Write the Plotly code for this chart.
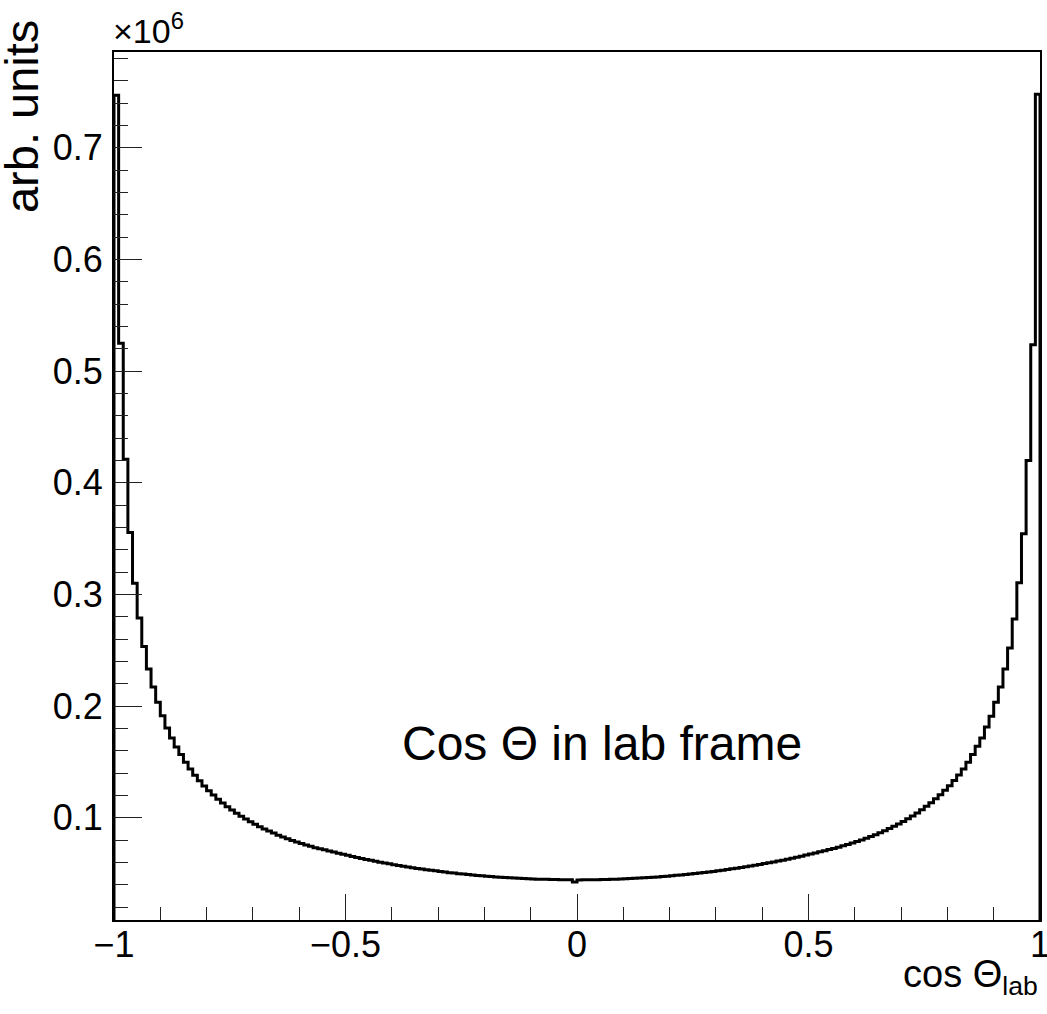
import numpy as np
import plotly.graph_objects as go

# Histogram of cos(theta_lab): 200 bins from -1 to 1, values in units of 10^6
x_min, x_max, n_bins = -1.0, 1.0, 200

# bins from x=-1 up to x=0 (left half)
counts_left = [
    0.747, 0.525, 0.421, 0.3556, 0.310, 0.279, 0.2535, 0.2333, 0.2172, 0.2036,
    0.1915, 0.1805, 0.1715, 0.1635, 0.1566, 0.1497, 0.1437, 0.1382, 0.1332, 0.1286,
    0.1243, 0.1204, 0.1167, 0.1133, 0.1100, 0.1070, 0.1041, 0.1014, 0.0989, 0.0965,
    0.0942, 0.0921, 0.0901, 0.0881, 0.0863, 0.0845, 0.0829, 0.0813, 0.0798, 0.0784,
    0.0770, 0.0757, 0.0745, 0.0733, 0.0722, 0.0713, 0.0703, 0.0693, 0.0683, 0.0673,
    0.0664, 0.0654, 0.0645, 0.0636, 0.0627, 0.0619, 0.0611, 0.0603, 0.0595, 0.0588,
    0.0580, 0.0573, 0.0567, 0.0560, 0.0554, 0.0547, 0.0541, 0.0536, 0.0530, 0.0525,
    0.0519, 0.0514, 0.0509, 0.0505, 0.0500, 0.0496, 0.0492, 0.0488, 0.0484, 0.0481,
    0.0477, 0.0474, 0.0471, 0.0468, 0.0465, 0.0463, 0.0461, 0.0458, 0.0456, 0.0454,
    0.0453, 0.0451, 0.0450, 0.0449, 0.0448, 0.0447, 0.0446, 0.0446, 0.0445, 0.0425,
]

# bins from x=0 up to x=1 (right half)
counts_right = [
    0.0444, 0.0445, 0.0445, 0.0446, 0.0446, 0.0447, 0.0448, 0.0449, 0.0451, 0.0452,
    0.0454, 0.0456, 0.0458, 0.0460, 0.0463, 0.0465, 0.0468, 0.0471, 0.0474, 0.0477,
    0.0481, 0.0485, 0.0489, 0.0493, 0.0497, 0.0501, 0.0506, 0.0510, 0.0515, 0.0520,
    0.0526, 0.0531, 0.0537, 0.0543, 0.0549, 0.0555, 0.0562, 0.0568, 0.0575, 0.0582,
    0.0590, 0.0597, 0.0605, 0.0613, 0.0621, 0.0629, 0.0638, 0.0647, 0.0656, 0.0666,
    0.0676, 0.0686, 0.0696, 0.0706, 0.0716, 0.0726, 0.0737, 0.0749, 0.0761, 0.0774,
    0.0788, 0.0802, 0.0817, 0.0833, 0.0849, 0.0866, 0.0885, 0.0904, 0.0924, 0.0945,
    0.0968, 0.0992, 0.1017, 0.1044, 0.1073, 0.1103, 0.1136, 0.1170, 0.1207, 0.1246,
    0.1288, 0.1334, 0.1384, 0.1438, 0.1497, 0.1566, 0.1640, 0.1715, 0.1814, 0.1909,
    0.2034, 0.2172, 0.2333, 0.2520, 0.2780, 0.3104, 0.3544, 0.420, 0.5237, 0.748,
]

x_tick_vals = [-1, -0.5, 0, 0.5, 1]
x_tick_text = ["\u22121", "\u22120.5", "0", "0.5", "1"]
y_tick_vals = [0.1, 0.2, 0.3, 0.4, 0.5, 0.6, 0.7]
y_tick_text = ["0.1", "0.2", "0.3", "0.4", "0.5", "0.6", "0.7"]

counts = np.array(counts_left + counts_right)
edges = np.linspace(x_min, x_max, n_bins + 1)

# histogram outline (ROOT style): step line through bin edges, down to the axis at both ends
xs = np.concatenate([[edges[0]], edges, [edges[-1]]])
ys = np.concatenate([[0.0], counts, [counts[-1]], [0.0]])

FONT = "Liberation Sans, Arial, Helvetica, sans-serif"

fig = go.Figure()
fig.add_trace(go.Scatter(
    x=xs, y=ys, mode="lines", line=dict(color="black", width=3, shape="hv"),
    hoverinfo="skip",
))

axis_common = dict(
    showline=True, linecolor="black", linewidth=2, mirror=True,
    showgrid=False, zeroline=False, ticks="inside", tickcolor="#222", tickwidth=1,
    tickfont=dict(family=FONT, size=36, color="black"),
    ticklabeloverflow="allow",
)

fig.update_xaxes(
    range=[x_min, x_max], tickvals=x_tick_vals, ticktext=x_tick_text,
    ticklen=26, ticklabelstandoff=-8,
    minor=dict(dtick=0.1, tick0=-1, ticks="inside", ticklen=13, tickcolor="#222", tickwidth=1),
    **axis_common,
)
fig.update_yaxes(
    range=[0.0085, 0.7858], tickvals=y_tick_vals, ticktext=y_tick_text,
    ticklen=28, ticklabelstandoff=2,
    minor=dict(dtick=0.02, tick0=0, ticks="inside", ticklen=14, tickcolor="#222", tickwidth=1),
    **axis_common,
)

fig.update_layout(
    width=1047, height=1014,
    margin=dict(l=114, r=7, t=52, b=94, autoexpand=False),
    plot_bgcolor="white", paper_bgcolor="white",
    showlegend=False,
    annotations=[
        dict(text="arb. units", textangle=-90, xref="paper", yref="paper",
             x=-0.100, y=1.039, xanchor="center", yanchor="top", showarrow=False,
             font=dict(family=FONT, size=47, color="black")),
        dict(text="\u00d710<sup>6</sup>", xref="paper", yref="paper",
             x=-0.003, y=1.0, xanchor="left", yanchor="bottom", showarrow=False,
             font=dict(family=FONT, size=34, color="black")),
        dict(text="cos \u0398<sub>lab</sub>", xref="paper", yref="paper",
             x=1.0, y=-0.036, xanchor="right", yanchor="top", showarrow=False,
             font=dict(family=FONT, size=38, color="black")),
        dict(text="Cos \u0398 in lab frame", xref="paper", yref="paper",
             x=0.309, y=0.203, xanchor="left", yanchor="middle", showarrow=False,
             font=dict(family=FONT, size=48, color="black")),
    ],
)

fig.write_html("out.html", config={"displayModeBar": False},
               post_script="document.body.style.margin='0';")
